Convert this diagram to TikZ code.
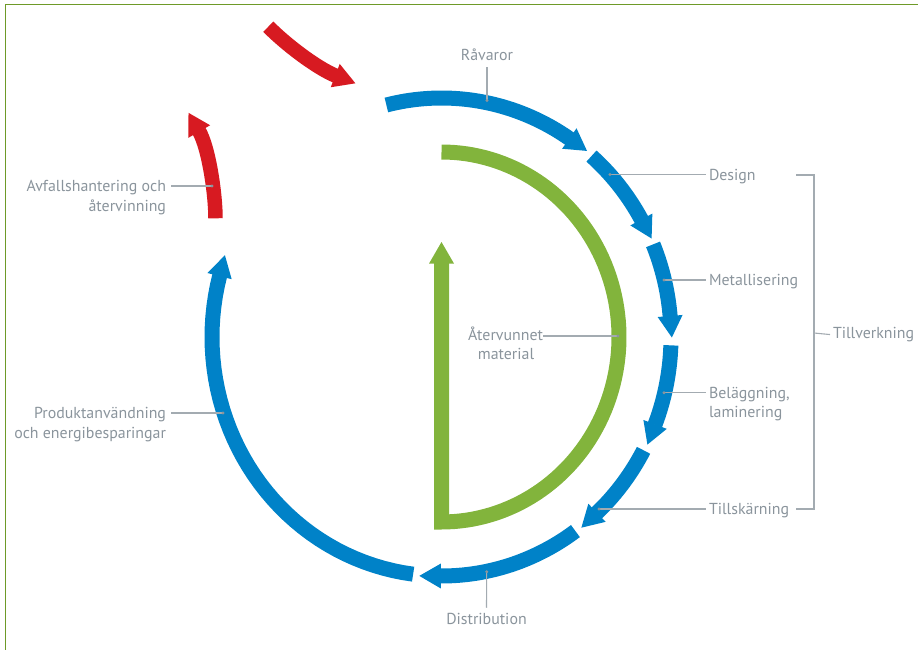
\documentclass[tikz,border=0pt]{standalone}
\usepackage{fontspec}
\setmainfont{PT Sans}
\usetikzlibrary{calc}
\definecolor{ringblue}{HTML}{0082C8}
\definecolor{leafgreen}{HTML}{82B43C}
\definecolor{alertred}{HTML}{D71A21}
\definecolor{labelgray}{HTML}{8A949C}
\definecolor{leadergray}{HTML}{A3ABB1}
\definecolor{dotgray}{HTML}{8C959C}
\definecolor{framegreen}{HTML}{6E9A28}
\newcommand{\mkhead}[4]{%
  \pgfmathsetmacro{\mhTx}{#1+21*cos(#3)}%
  \pgfmathsetmacro{\mhTy}{#2+21*sin(#3)}%
  \pgfmathsetmacro{\mhAx}{#1-0.6*cos(#3)+12.5*cos(#3+90)}%
  \pgfmathsetmacro{\mhAy}{#2-0.6*sin(#3)+12.5*sin(#3+90)}%
  \pgfmathsetmacro{\mhBx}{#1-0.6*cos(#3)-12.5*cos(#3+90)}%
  \pgfmathsetmacro{\mhBy}{#2-0.6*sin(#3)-12.5*sin(#3+90)}%
  \fill[#4] (\mhTx,\mhTy) -- (\mhAx,\mhAy) -- (\mhBx,\mhBy) -- cycle;}
\tikzset{
  lbl/.style={font=\fontsize{15.9}{18.5}\selectfont, text=labelgray, inner sep=0pt, outer sep=0pt},
  leader/.style={draw=leadergray, line width=1.1pt},
  tickdot/.style={fill=dotgray},
  band/.style={line width=15pt, line cap=butt},
}
\begin{document}
\begin{tikzpicture}[x=1pt, y=-1pt]
\useasboundingbox (0,0) rectangle (918,650);
% frame
\draw[framegreen, line width=1.2pt] (5.5,650) -- (5.5,4.5) -- (918,4.5);

% blue ring segments (ellipse centre 441.5,337; rx 229.5, ry 239)
\foreach \ta/\tb in {-103.9/-56, -49.2/-29.3, -22.8/-4.9, 2.0/21.6, 28.3/47.5, 54.3/90.3, 97.1/194.9}{
  \draw[ringblue, band] plot[domain=\ta:\tb, samples=40, variable=\t] ({441.5+229.5*cos(\t)}, {337+239*sin(\t)});
  \pgfmathsetmacro{\bx}{441.5+229.5*cos(\tb)}
  \pgfmathsetmacro{\by}{337+239*sin(\tb)}
  \pgfmathsetmacro{\ang}{atan2(239*cos(\tb), -229.5*sin(\tb))}
  \mkhead{\bx}{\by}{\ang}{ringblue}
}

% green D
\draw[leafgreen, band, line join=miter] plot[domain=-90:90, samples=90, variable=\t] ({441.5+177.5*cos(\t)}, {337+185*sin(\t)}) -- (441.5,263);
\mkhead{441.5}{263}{-90}{leafgreen}

% red arrows
\draw[alertred, line width=14.5pt] (268.3,26.7) .. controls (286,44.5) and (316,67.5) .. (335.8,75.8);
\mkhead{335.8}{75.8}{21}{alertred}
\draw[alertred, line width=14.5pt] (215.5,218.3) .. controls (215.5,195) and (209,148.3) .. (199,131);
\mkhead{199}{131}{-120}{alertred}

% tick dots
\coordinate (dRav) at (487,100.5);
\coordinate (dDes) at (610,174.5);
\coordinate (dMet) at (664,280);
\coordinate (dBel) at (664,392.7);
\coordinate (dTil) at (599,509);
\coordinate (dDis) at (486.7,571.7);
\coordinate (dPro) at (223,413);
\coordinate (dAvf) at (212,186);
\coordinate (dAte) at (618,336);

% labels
\node[lbl, anchor=base] (tRav) at (487,60.5) {Råvaror};
\node[lbl, anchor=base west] (tDes) at (709,180.5) {Design};
\node[lbl, anchor=base west] (tMet) at (709,285.5) {Metallisering};
\node[lbl, anchor=base west] (tBel) at (709,398.5) {Beläggning,};
\node[lbl, anchor=base west] (tBel2) at (709,417.5) {laminering};
\node[lbl, anchor=base west] (tTil) at (709,514.5) {Tillskärning};
\node[lbl, anchor=base west] (tTv) at (833,338.5) {Tillverkning};
\node[lbl, anchor=base] (tDis) at (486.5,624) {Distribution};
\node[lbl, anchor=base east] (tAvf) at (166,191.5) {Avfallshantering och};
\node[lbl, anchor=base east] (tAvf2) at (166,211) {återvinning};
\node[lbl, anchor=base east] (tPro) at (166,418.5) {Produktanvändning};
\node[lbl, anchor=base east] (tPro2) at (166,438) {och energibesparingar};
\node[lbl, anchor=base east] (tAte) at (543,340.5) {Återvunnet};
\node[lbl, anchor=base] (tAte2) at (506,359) {material};

% leaders
\draw[leader] (dRav) -- ($(tRav.south)+(0,6)$);
\draw[leader] (dDes) -- ($(dDes -| tDes.west)+(-3,0)$);
\draw[leader] (dMet) -- ($(dMet -| tMet.west)+(-3,0)$);
\draw[leader] (dBel) -- ($(dBel -| tBel.west)+(-3,0)$);
\draw[leader] (dTil) -- ($(dTil -| tTil.west)+(-3,0)$);
\draw[leader] (dDis) -- ($(tDis.north)+(0,-5)$);
\draw[leader] (dPro) -- ($(dPro -| tPro.east)+(5,0)$);
\draw[leader] (dAvf) -- ($(dAvf -| tAvf.east)+(5,0)$);
\draw[leader] (dAte) -- (dAte -| tAte.east);
% bracket
\coordinate (bTop) at (814,175);
\coordinate (bBot) at (814,509);
\draw[leader] (796,175) -- (bTop) -- (bBot) -- (796,509);
\draw[leader] (814,333) -- ($(tTv.west)+(-3,0)$);
\foreach \d in {dRav,dDes,dMet,dBel,dTil,dDis,dPro,dAvf,dAte}{\fill[tickdot] (\d) circle (1.6pt);}
\end{tikzpicture}
\end{document}
